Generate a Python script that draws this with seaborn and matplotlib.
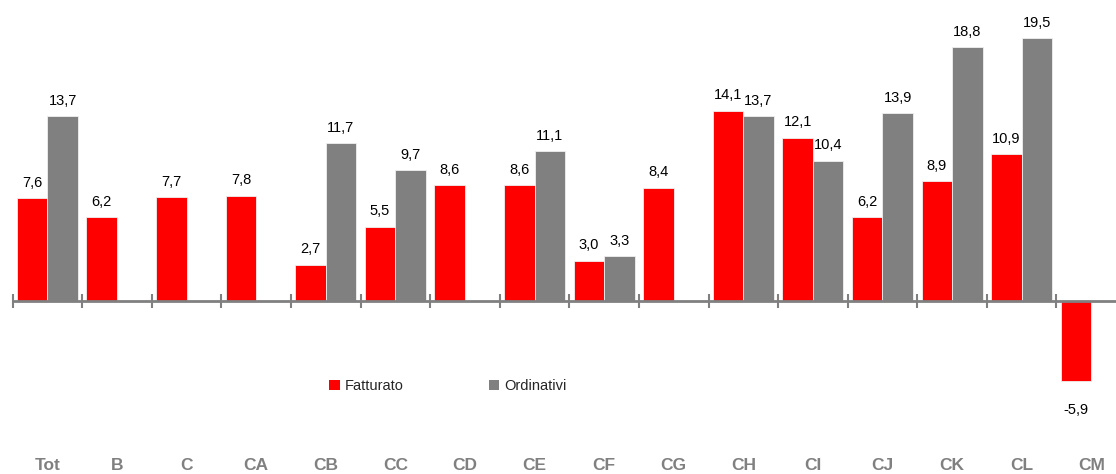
import matplotlib
matplotlib.use("Agg")
import matplotlib.pyplot as plt
from matplotlib.patches import Patch
import numpy as np
import pandas as pd
import seaborn as sns

# chart data
categories = ["Tot", "B", "C", "CA", "CB", "CC", "CD", "CE", "CF", "CG",
              "CH", "CI", "CJ", "CK", "CL", "CM"]
fatturato = [7.6, 6.2, 7.7, 7.8, 2.7, 5.5, 8.6, 8.6, 3.0, 8.4,
             14.1, 12.1, 6.2, 8.9, 10.9, -5.9]
ordinativi = [13.7, None, None, None, 11.7, 9.7, None, 11.1, 3.3, None,
              13.7, 10.4, 13.9, 18.8, 19.5, None]
series = ["Fatturato", "Ordinativi"]
colors = {"Fatturato": "#FF0000", "Ordinativi": "#808080"}

sns.set_style("white")
plt.rcParams["font.family"] = ["Liberation Sans", "DejaVu Sans"]

df = pd.DataFrame({"cat": categories, "Fatturato": fatturato, "Ordinativi": ordinativi})
long = df.melt(id_vars="cat", var_name="serie", value_name="val").dropna()

W, H = 1116, 474
fig = plt.figure(figsize=(W / 100, H / 100), dpi=100)
ax = fig.add_axes([0, 1 - 430 / H, 1, 430 / H])

sns.barplot(data=long, x="cat", y="val", hue="serie", order=categories,
            hue_order=series, palette=colors, saturation=1, width=0.876,
            dodge=True, edgecolor="#f0f0f0", linewidth=0.6, legend=False, ax=ax)

# value labels
for cont in ax.containers:
    labels = [f"{v:.1f}".replace(".", ",") for v in cont.datavalues]
    ax.bar_label(cont, labels=labels, padding=6, fontsize=10.5, color="black")
# push negative label lower
for t in ax.texts:
    if t.get_text().startswith("-"):
        t.xyann = (0, -16)

ax.set_xlim(-0.68, 15.355)
ax.set_ylim(-9.56, 22.31)

for s in ["top", "right", "left"]:
    ax.spines[s].set_visible(False)
ax.spines["bottom"].set_position(("data", 0))
ax.spines["bottom"].set_bounds(-0.5, 15.355)
ax.spines["bottom"].set_color("#808080")
ax.spines["bottom"].set_linewidth(2)
ax.set_yticks([])
ax.set_xlabel("")
ax.set_ylabel("")

# boundary ticks as minor, labels on major
ax.set_xticks(np.arange(len(categories)) - 0.5, minor=True)
ax.tick_params(axis="x", which="minor", bottom=True, direction="inout",
               length=10, width=1.5, color="#808080")
ax.tick_params(axis="x", which="major", bottom=True, length=0, pad=113,
               labelsize=12.5, labelcolor="#808080")
for lbl in ax.get_xticklabels():
    lbl.set_fontweight("bold")

handles = [Patch(facecolor=colors[s], edgecolor="none", label=s) for s in series]
fig.legend(handles=handles, loc="center left", ncol=2, frameon=False,
           bbox_to_anchor=(329 / W, 1 - 386 / H), bbox_transform=fig.transFigure,
           borderpad=0, borderaxespad=0, handlelength=0.75, handleheight=0.75,
           handletextpad=0.35, columnspacing=5.8, fontsize=10.5)

fig.savefig("out.png", dpi=100)
